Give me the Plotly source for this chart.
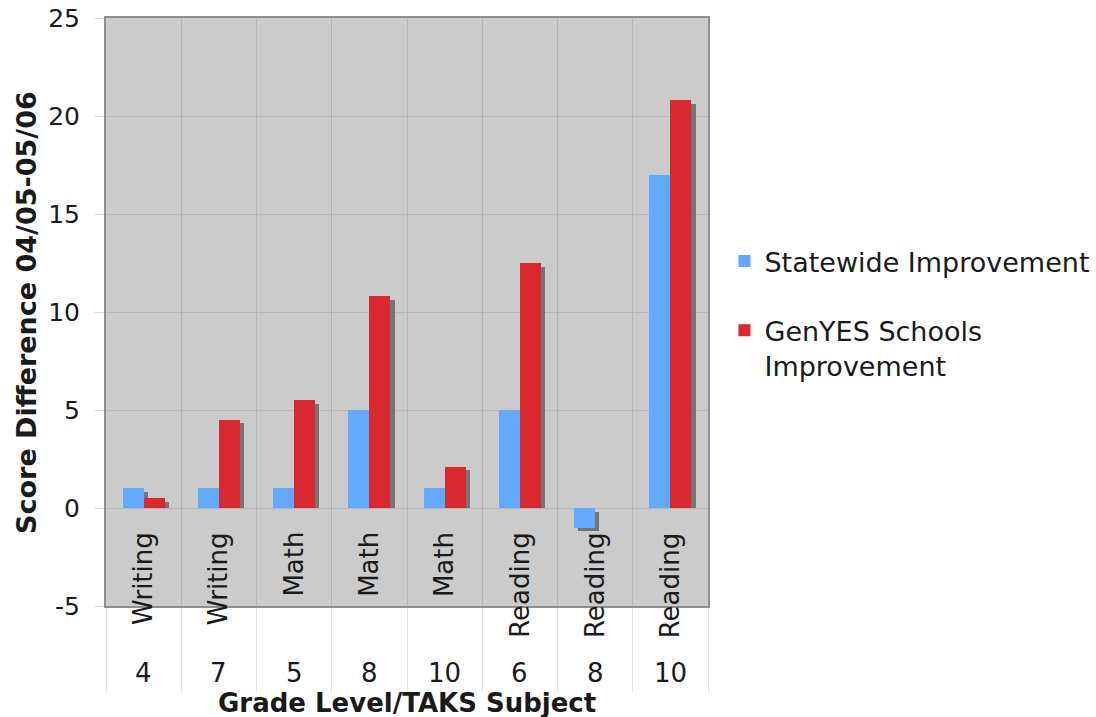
import numpy as np
import plotly.graph_objects as go

# Score change between 2004/05 and 2005/06, by grade and TAKS subject
subjects = ["Writing", "Writing", "Math", "Math", "Math", "Reading", "Reading", "Reading"]
grades = ["4", "7", "5", "8", "10", "6", "8", "10"]
statewide = [1, 1, 1, 5, 1, 5, -1, 17]
genyes = [0.5, 4.5, 5.5, 10.8, 2.1, 12.5, 0, 20.8]

y_ticks = [-5, 0, 5, 10, 15, 20, 25]
y_tick_labels = ["-5", "0", "5", "10", "15", "20", "25"]

series_names = ["Statewide Improvement", "GenYES Schools<br>Improvement"]
series_colors = ["#63A9FC", "#DA2830"]

FONT = "DejaVu Sans"
TEXT = "#1a1a1a"

n = len(subjects)
pos = np.arange(n)
bar_w = 0.28
shadow_dx = 0.055   # drop-shadow offset, in category units
shadow_dy = -0.18   # drop-shadow offset, in score units

fig = go.Figure()

series = [statewide, genyes]
offsets = [-bar_w / 2, bar_w / 2]

# drop shadows drawn first so the bars sit on top; a shadow is shifted
# right and down, and stops at the zero line for positive bars
for vals, off in zip(series, offsets):
    v = np.array(vals, dtype=float)
    base = np.where(v >= 0, 0.0, shadow_dy)
    length = np.where(v >= 0, np.maximum(v + shadow_dy, 0), v)
    fig.add_trace(go.Bar(
        x=pos + off + shadow_dx, y=length, base=base, width=bar_w,
        marker=dict(color="rgba(95,95,95,0.8)", line=dict(width=0)),
        showlegend=False, hoverinfo="skip",
    ))

for i, (vals, off) in enumerate(zip(series, offsets)):
    fig.add_trace(go.Bar(
        x=pos + off, y=vals, width=bar_w, name=series_names[i],
        marker=dict(color=series_colors[i], line=dict(width=0)),
        legendgroup=f"g{i}",
    ))

# subject labels (rotated) and grade labels under each category
for i in range(n):
    fig.add_annotation(
        x=pos[i], y=-1.12, xref="x", yref="y", text=subjects[i],
        textangle=-90, xanchor="center", yanchor="top", showarrow=False,
        font=dict(family=FONT, size=26, color=TEXT),
    )
    fig.add_annotation(
        x=pos[i], y=-0.114, xref="x", yref="paper", text=grades[i],
        xanchor="center", yanchor="middle", showarrow=False,
        font=dict(family=FONT, size=26, color=TEXT),
    )

fig.add_annotation(
    x=0.5, y=-0.165, xref="paper", yref="paper", text="<b>Grade Level/TAKS Subject</b>",
    xanchor="center", yanchor="middle", showarrow=False,
    font=dict(family=FONT, size=26, color=TEXT),
)
fig.add_annotation(
    x=-0.133, y=0.5, xref="paper", yref="paper", text="<b>Score Difference 04/05-05/06</b>",
    textangle=-90, xanchor="center", yanchor="middle", showarrow=False,
    font=dict(family=FONT, size=27, color=TEXT),
)

boundaries = np.arange(n + 1) - 0.5

fig.update_layout(
    width=1096, height=717,
    margin=dict(l=106, r=388, t=18, b=111, autoexpand=False),
    paper_bgcolor="white", plot_bgcolor="#cbcbcb",
    barmode="overlay", bargap=0,
    font=dict(family=FONT, color=TEXT),
    showlegend=True,
    legend=dict(
        xref="container", yref="container", x=0.661, y=1 - 237 / 717,
        xanchor="left", yanchor="top", traceorder="grouped", tracegroupgap=31,
        valign="top", font=dict(family=FONT, size=27, color=TEXT),
        bgcolor="rgba(0,0,0,0)",
    ),
    xaxis=dict(
        range=[-0.5, n - 0.5], tickvals=boundaries, showticklabels=False,
        showgrid=True, gridcolor="#b4b4b4", gridwidth=1,
        ticks="outside", ticklen=85, tickcolor="#e4e4e4", tickwidth=1,
        showline=True, linecolor="#8e8e8e", linewidth=2, mirror=True,
        zeroline=False, fixedrange=True, automargin=False,
    ),
    yaxis=dict(
        range=[-5, 25], tickvals=y_ticks, ticktext=y_tick_labels,
        showgrid=True, gridcolor="#b8b8b8", gridwidth=1,
        ticks="outside", ticklen=9, tickcolor="#d6d6d6", ticklabelstandoff=10,
        showline=True, linecolor="#8e8e8e", linewidth=2, mirror=True,
        zeroline=False,
        tickfont=dict(family=FONT, size=25, color=TEXT),
        fixedrange=True, automargin=False,
    ),
)

fig.write_html("out.html")
